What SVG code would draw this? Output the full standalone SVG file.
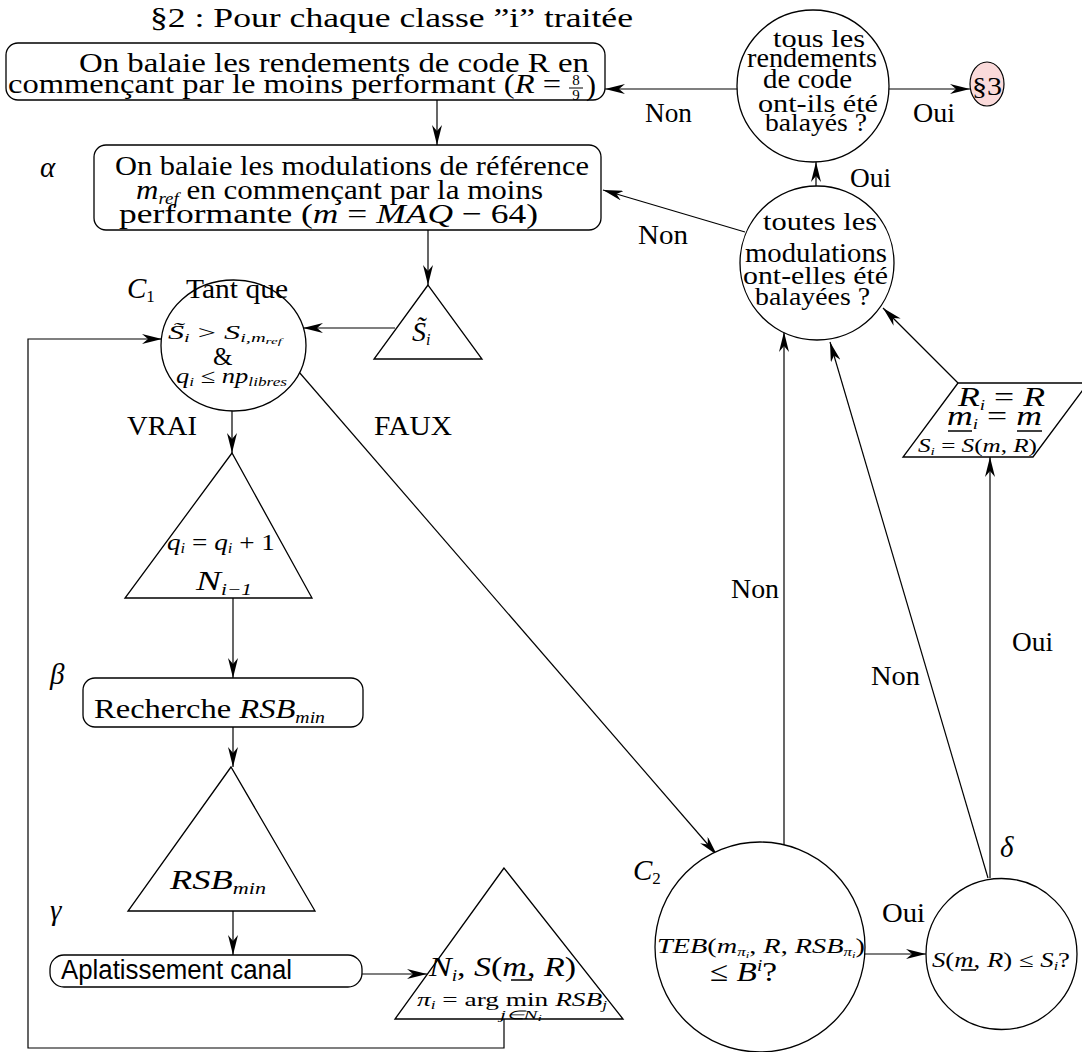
<svg xmlns="http://www.w3.org/2000/svg" width="1082" height="1052" viewBox="0 0 1082 1052">
<defs>
<marker id="ah" viewBox="0 0 20 10" refX="20" refY="5" markerWidth="20" markerHeight="10" markerUnits="userSpaceOnUse" orient="auto">
<path d="M0,0 L20,5 L0,10 L6,5 z" fill="#000"/>
</marker>
<style>
text{font-family:"Liberation Serif","Times New Roman",serif;fill:#000}
.i{font-style:italic}
.sans{font-family:"Liberation Sans",Arial,sans-serif}
.shape{fill:#fff;stroke:#000;stroke-width:1.3}
.conn{fill:none;stroke:#000;stroke-width:1.2}
.arr{marker-end:url(#ah)}
.ul{stroke:#000;stroke-width:1.5}
</style>
</defs>
<rect width="1082" height="1052" fill="#fff"/>

<text x="150" y="27" font-size="28" textLength="483" lengthAdjust="spacingAndGlyphs">§2 : Pour chaque classe ”i” traitée</text>

<g id="connectors">
<path class="conn arr" d="M437,100 V145"/>
<path class="conn arr" d="M738,89 H605"/>
<path class="conn arr" d="M889,89 H970"/>
<path class="conn arr" d="M816,187 V162"/>
<path class="conn arr" d="M745,232 L603,190"/>
<path class="conn arr" d="M428,230 V285"/>
<path class="conn arr" d="M395,328 H303"/>
<path class="conn arr" d="M232,411 V453"/>
<path class="conn arr" d="M233,598 V678"/>
<path class="conn arr" d="M233,727 V767"/>
<path class="conn arr" d="M233,911 V955"/>
<path class="conn arr" d="M362,974 H427"/>
<path class="conn arr" d="M504,1019 V1048 H28 V339 H162"/>
<path class="conn arr" d="M299,372 L717,855"/>
<path class="conn arr" d="M784,845 V332"/>
<path class="conn arr" d="M865,954 H926"/>
<path class="conn arr" d="M988,878 L830,342"/>
<path class="conn arr" d="M990,878 V457"/>
<path class="conn arr" d="M958,383 L883,308"/>
<text x="645" y="122" font-size="27" textLength="47" lengthAdjust="spacingAndGlyphs">Non</text>
<text x="913" y="122" font-size="27" textLength="42" lengthAdjust="spacingAndGlyphs">Oui</text>
<text x="850" y="187" font-size="27" textLength="41" lengthAdjust="spacingAndGlyphs">Oui</text>
<text x="638" y="244" font-size="27" textLength="50" lengthAdjust="spacingAndGlyphs">Non</text>
<text x="127" y="435" font-size="28" textLength="70" lengthAdjust="spacingAndGlyphs">VRAI</text>
<text x="374" y="435" font-size="28" textLength="78" lengthAdjust="spacingAndGlyphs">FAUX</text>
<text x="731" y="598" font-size="27" textLength="48" lengthAdjust="spacingAndGlyphs">Non</text>
<text x="871" y="685" font-size="27" textLength="49" lengthAdjust="spacingAndGlyphs">Non</text>
<text x="1012" y="651" font-size="27" textLength="41" lengthAdjust="spacingAndGlyphs">Oui</text>
<text x="882" y="922" font-size="27" textLength="43" lengthAdjust="spacingAndGlyphs">Oui</text>
</g>

<g id="box1">
<rect class="shape" x="6" y="43" width="599" height="57" rx="12"/>
<text x="79" y="72" font-size="28" textLength="510" lengthAdjust="spacingAndGlyphs">On balaie les rendements de code R en</text>
<text x="8" y="93" font-size="28" textLength="553" lengthAdjust="spacingAndGlyphs">commençant par le moins performant (<tspan class="i">R</tspan> =</text>
<text x="576" y="85" font-size="15" text-anchor="middle">8</text>
<line x1="569" y1="88" x2="583" y2="88" stroke="#000" stroke-width="1"/>
<text x="576" y="100" font-size="15" text-anchor="middle">9</text>
<text x="586" y="95" font-size="30">)</text>
</g>

<g id="box2">
<rect class="shape" x="94" y="145" width="507" height="85" rx="12"/>
<text x="40" y="177" font-size="29" class="i">α</text>
<text x="115" y="175" font-size="28" textLength="474" lengthAdjust="spacingAndGlyphs">On balaie les modulations de référence</text>
<text x="136" y="199" font-size="28" textLength="407" lengthAdjust="spacingAndGlyphs"><tspan class="i">m</tspan><tspan class="i" font-size="17" dy="5">ref</tspan><tspan dy="-5"> en commençant par la moins</tspan></text>
<text x="119" y="223" font-size="28" textLength="419" lengthAdjust="spacingAndGlyphs">performante (<tspan class="i">m</tspan> = <tspan class="i">MAQ</tspan> − 64)</text>
</g>

<g id="topcircle">
<circle class="shape" cx="813" cy="86" r="76"/>
<text x="773" y="47" font-size="25" textLength="92" lengthAdjust="spacingAndGlyphs">tous les</text>
<text x="747" y="67" font-size="27" textLength="130" lengthAdjust="spacingAndGlyphs">rendements</text>
<text x="763" y="88" font-size="27" textLength="89" lengthAdjust="spacingAndGlyphs">de code</text>
<text x="758" y="112" font-size="25" textLength="120" lengthAdjust="spacingAndGlyphs">ont-ils été</text>
<text x="765" y="131" font-size="25" textLength="102" lengthAdjust="spacingAndGlyphs">balayés ?</text>
</g>

<g id="s3">
<ellipse cx="987" cy="84" rx="17" ry="22" fill="#fadada" stroke="#000" stroke-width="1.2"/>
<text x="972" y="95" font-size="26" textLength="30" lengthAdjust="spacingAndGlyphs">§3</text>
</g>

<g id="modcircle">
<circle class="shape" cx="817" cy="263" r="77"/>
<text x="763" y="230" font-size="26" textLength="114" lengthAdjust="spacingAndGlyphs">toutes les</text>
<text x="745" y="262" font-size="28" textLength="142" lengthAdjust="spacingAndGlyphs">modulations</text>
<text x="743" y="284" font-size="26" textLength="145" lengthAdjust="spacingAndGlyphs">ont-elles été</text>
<text x="755" y="305" font-size="26" textLength="115" lengthAdjust="spacingAndGlyphs">balayées ?</text>
</g>

<g id="stilde">
<polygon class="shape" points="428,285 374,359 482,359"/>
<text x="412" y="341" font-size="28"><tspan class="i">S̃</tspan><tspan class="i" font-size="16" dy="4">i</tspan></text>
</g>

<g id="c1">
<ellipse class="shape" cx="233.5" cy="345.5" rx="72.5" ry="65.5"/>
<text x="127" y="298" font-size="29" class="i">C<tspan font-size="17" dy="4" font-style="normal">1</tspan></text>
<text x="186" y="298" font-size="28" textLength="102" lengthAdjust="spacingAndGlyphs">Tant que</text>
<text x="168" y="339" font-size="19" textLength="114" lengthAdjust="spacingAndGlyphs"><tspan class="i">S̃</tspan><tspan class="i" font-size="12" dy="3">i</tspan><tspan dy="-3"> &gt; </tspan><tspan class="i">S</tspan><tspan class="i" font-size="12" dy="3">i,m</tspan><tspan class="i" font-size="9" dy="2">ref</tspan></text>
<text x="213" y="365" font-size="25">&amp;</text>
<text x="176" y="383" font-size="20" textLength="111" lengthAdjust="spacingAndGlyphs"><tspan class="i">q</tspan><tspan class="i" font-size="13" dy="3">i</tspan><tspan dy="-3"> ≤ </tspan><tspan class="i">np</tspan><tspan class="i" font-size="13" dy="3">libres</tspan></text>
</g>

<g id="tri_q">
<polygon class="shape" points="232,453 125,598 312,598"/>
<text x="167" y="550" font-size="23" textLength="108" lengthAdjust="spacingAndGlyphs"><tspan class="i">q</tspan><tspan class="i" font-size="14" dy="3">i</tspan><tspan dy="-3"> = </tspan><tspan class="i">q</tspan><tspan class="i" font-size="14" dy="3">i</tspan><tspan dy="-3"> + 1</tspan></text>
<text x="196" y="590" font-size="28" textLength="56" lengthAdjust="spacingAndGlyphs"><tspan class="i">N</tspan><tspan class="i" font-size="16" dy="5">i−1</tspan></text>
</g>

<g id="recherche">
<rect class="shape" x="83" y="678" width="280" height="49" rx="12"/>
<text x="50" y="684" font-size="29" class="i">β</text>
<text x="94" y="718" font-size="28" textLength="231" lengthAdjust="spacingAndGlyphs">Recherche <tspan class="i">RSB</tspan><tspan class="i" font-size="17" dy="5">min</tspan></text>
</g>

<g id="tri_rsb">
<polygon class="shape" points="231,767 128,911 315,911"/>
<text x="170" y="889" font-size="28" textLength="96" lengthAdjust="spacingAndGlyphs"><tspan class="i">RSB</tspan><tspan class="i" font-size="17" dy="5">min</tspan></text>
</g>

<g id="aplatissement">
<rect class="shape" x="50" y="955" width="312" height="32" rx="14"/>
<text x="50" y="920" font-size="29" class="i">γ</text>
<text x="61" y="979" font-size="27" class="sans" textLength="231" lengthAdjust="spacingAndGlyphs">Aplatissement canal</text>
</g>

<g id="tri_ni">
<polygon class="shape" points="504,868 395,1019 623,1019"/>
<text x="429" y="976" font-size="28" textLength="147" lengthAdjust="spacingAndGlyphs"><tspan class="i">N</tspan><tspan class="i" font-size="16" dy="5">i</tspan><tspan dy="-5">, </tspan><tspan class="i">S</tspan>(<tspan class="i">m</tspan>, <tspan class="i">R</tspan>)</text>
<line class="ul" x1="511" y1="980" x2="532" y2="980"/>
<text x="417" y="1006" font-size="19" textLength="190" lengthAdjust="spacingAndGlyphs"><tspan class="i">π</tspan><tspan class="i" font-size="12" dy="3">i</tspan><tspan dy="-3"> = arg min </tspan><tspan class="i">RSB</tspan><tspan class="i" font-size="12" dy="3">j</tspan></text>
<text x="500" y="1019" font-size="12" class="i" textLength="42" lengthAdjust="spacingAndGlyphs">j∈N<tspan font-size="9" dy="2">i</tspan></text>
</g>

<g id="c2">
<circle class="shape" cx="760" cy="947" r="105"/>
<text x="633" y="880" font-size="29" class="i">C<tspan font-size="17" dy="4" font-style="normal">2</tspan></text>
<text x="657" y="953" font-size="20" textLength="208" lengthAdjust="spacingAndGlyphs"><tspan class="i">TEB</tspan>(<tspan class="i">m</tspan><tspan class="i" font-size="12" dy="3">π</tspan><tspan class="i" font-size="9" dy="2">i</tspan><tspan dy="-5">, </tspan><tspan class="i">R</tspan>, <tspan class="i">RSB</tspan><tspan class="i" font-size="12" dy="3">π</tspan><tspan class="i" font-size="9" dy="2">i</tspan><tspan dy="-5">)</tspan></text>
<text x="710" y="981" font-size="28" textLength="67" lengthAdjust="spacingAndGlyphs">≤ <tspan class="i">B</tspan><tspan class="i" font-size="16" dy="-10">i</tspan><tspan dy="10">?</tspan></text>
</g>

<g id="delta">
<circle class="shape" cx="1001.5" cy="954" r="75.5"/>
<text x="1000" y="857" font-size="29" class="i">δ</text>
<text x="932" y="967" font-size="20" textLength="138" lengthAdjust="spacingAndGlyphs"><tspan class="i">S</tspan>(<tspan class="i">m</tspan>, <tspan class="i">R</tspan>) ≤ <tspan class="i">S</tspan><tspan class="i" font-size="12" dy="3">i</tspan><tspan dy="-3">?</tspan></text>
<line class="ul" x1="961" y1="970" x2="976" y2="970"/>
</g>

<g id="parallelogram">
<polygon class="shape" points="958,383 1088,383 1033,457 903,457"/>
<text x="958" y="406" font-size="28" textLength="87" lengthAdjust="spacingAndGlyphs"><tspan class="i">R</tspan><tspan class="i" font-size="15" dy="4">i</tspan><tspan dy="-4"> = </tspan><tspan class="i">R</tspan></text>
<text x="947" y="425" font-size="28" textLength="95" lengthAdjust="spacingAndGlyphs"><tspan class="i">m</tspan><tspan class="i" font-size="15" dy="4">i</tspan><tspan dy="-4"> = </tspan><tspan class="i">m</tspan></text>
<line class="ul" x1="948" y1="431" x2="972" y2="431"/>
<line class="ul" x1="1017" y1="431" x2="1042" y2="431"/>
<text x="918" y="452" font-size="18" textLength="119" lengthAdjust="spacingAndGlyphs"><tspan class="i">S</tspan><tspan class="i" font-size="11" dy="3">i</tspan><tspan dy="-3"> = </tspan><tspan class="i">S</tspan>(<tspan class="i">m</tspan>, <tspan class="i">R</tspan>)</text>
</g>
</svg>
